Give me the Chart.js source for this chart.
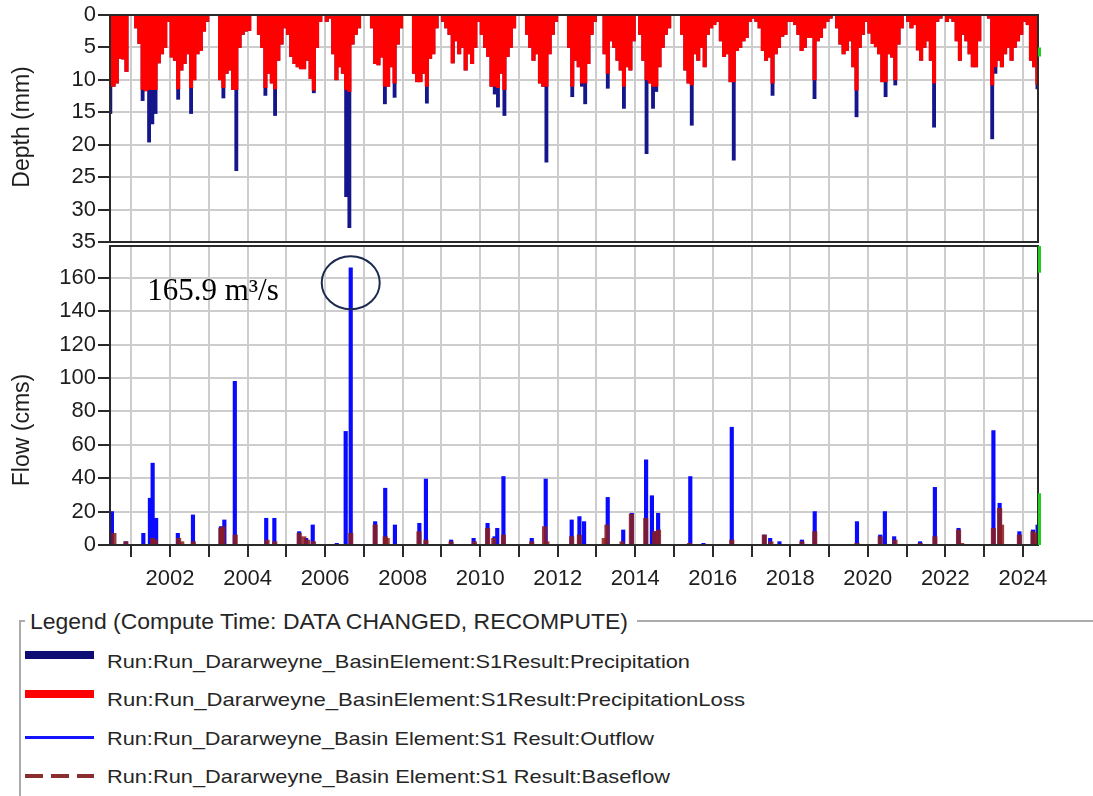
<!DOCTYPE html>
<html>
<head>
<meta charset="utf-8">
<script src="https://cdn.jsdelivr.net/npm/chart.js@4.4.1/dist/chart.umd.min.js"></script>
<style>
  html, body { margin:0; padding:0; background:#fff; width:1093px; height:796px; overflow:hidden;
    font-family:"Liberation Sans", Arial, sans-serif; }
  canvas { position:absolute; left:0; }
  #cDepth { top:0; z-index:2; }
  #cFlow { top:244px; z-index:1; }
  .box { position:absolute; }
  .lt { position:absolute; white-space:nowrap; line-height:1; transform-origin:0 50%; color:#262626; }
</style>
</head>
<body>
<canvas id="cDepth" width="1093" height="256"></canvas>
<canvas id="cFlow" width="1093" height="356"></canvas>

<div class="box" style="left:19px;top:620px;width:1074px;height:190px;border-left:2px solid #ababab;border-top:2px solid #ababab;"></div>
<div class="box" style="left:25px;top:608px;width:612px;height:28px;background:#fff;"></div>
<span class="lt" data-w="598" style="left:30px;top:610.5px;font-size:22px;">Legend (Compute Time: DATA CHANGED, RECOMPUTE)</span>

<div class="box" style="left:25px;top:651px;width:69px;height:8px;background:#0d0d73;"></div>
<div class="box" style="left:25px;top:690px;width:69px;height:8px;background:#ff0000;"></div>
<div class="box" style="left:25px;top:736px;width:69px;height:3px;background:#1414ff;"></div>
<div class="box" style="left:25px;top:774px;width:69px;height:4px;background:repeating-linear-gradient(90deg,#8c2d2d 0 18px,transparent 18px 26px);"></div>

<span class="lt" data-w="583" style="left:107px;top:651.5px;font-size:19px;">Run:Run_Dararweyne_BasinElement:S1Result:Precipitation</span>
<span class="lt" data-w="638" style="left:107px;top:690px;font-size:19px;">Run:Run_Dararweyne_BasinElement:S1Result:PrecipitationLoss</span>
<span class="lt" data-w="547" style="left:107px;top:728.5px;font-size:19px;">Run:Run_Dararweyne_Basin Element:S1 Result:Outflow</span>
<span class="lt" data-w="563" style="left:107px;top:767px;font-size:19px;">Run:Run_Dararweyne_Basin Element:S1 Result:Baseflow</span>

<script>
// ---------------- DATA ----------------
// Axis ticks / labels
const yearTicks  = [2001,2002,2003,2004,2005,2006,2007,2008,2009,2010,2011,2012,
                    2013,2014,2015,2016,2017,2018,2019,2020,2021,2022,2023,2024];
const yearLabels = ['','2002','','2004','','2006','','2008','','2010','','2012',
                    '','2014','','2016','','2018','','2020','','2022','','2024'];
const depthTicks = [0,5,10,15,20,25,30,35];
const flowTicks  = [0,20,40,60,80,100,120,140,160];

// Monthly depth series (mm) - Precipitation and PrecipitationLoss
const depthMonths = [
  '2000-06','2000-07','2000-08','2000-09','2000-10','2000-11',
  '2001-02','2001-03','2001-04','2001-05','2001-06','2001-07','2001-08','2001-09','2001-10','2001-11','2001-12',
  '2002-01','2002-02','2002-03','2002-04','2002-05','2002-06','2002-07','2002-08','2002-09','2002-10','2002-11','2002-12',
  '2003-04','2003-05','2003-06','2003-07','2003-08','2003-09','2003-10','2003-11','2003-12',
  '2004-01','2004-04','2004-05','2004-06','2004-07','2004-08','2004-09','2004-10','2004-11','2004-12',
  '2005-01','2005-02','2005-03','2005-04','2005-05','2005-06','2005-07','2005-08','2005-09','2005-10','2005-11',
  '2006-01','2006-02','2006-03','2006-04','2006-05','2006-06','2006-07','2006-08','2006-09','2006-10','2006-11',
  '2007-03','2007-04','2007-05','2007-06','2007-07','2007-08','2007-09','2007-10','2007-11','2007-12',
  '2008-04','2008-05','2008-06','2008-07','2008-08','2008-09','2008-10','2008-11',
  '2009-01','2009-02','2009-03','2009-04','2009-05','2009-06','2009-07','2009-08','2009-09','2009-10','2009-11','2009-12',
  '2010-01','2010-02','2010-03','2010-04','2010-05','2010-06','2010-07','2010-08','2010-09','2010-10','2010-11',
  '2011-03','2011-04','2011-05','2011-06','2011-07','2011-08','2011-09','2011-10','2011-11','2011-12',
  '2012-04','2012-05','2012-06','2012-07','2012-08','2012-09','2012-10','2012-11','2012-12',
  '2013-03','2013-04','2013-05','2013-06','2013-07','2013-08','2013-09','2013-10','2013-11','2013-12',
  '2014-02','2014-03','2014-04','2014-05','2014-06','2014-07','2014-08','2014-09','2014-10','2014-11',
  '2015-03','2015-04','2015-05','2015-06','2015-07','2015-08','2015-09','2015-10','2015-11','2015-12',
  '2016-01','2016-02','2016-03','2016-04','2016-05','2016-06','2016-07','2016-08','2016-09','2016-10','2016-11','2016-12',
  '2017-01','2017-02','2017-03','2017-04','2017-05','2017-06','2017-07','2017-08','2017-09','2017-10','2017-11','2017-12',
  '2018-01','2018-02','2018-03','2018-04','2018-05','2018-06','2018-07','2018-08','2018-09','2018-10','2018-11','2018-12',
  '2019-01','2019-03','2019-04','2019-05','2019-06','2019-07','2019-08','2019-09','2019-10','2019-11','2019-12',
  '2020-01','2020-02','2020-03','2020-04','2020-05','2020-06','2020-07','2020-08','2020-09','2020-10','2020-11',
  '2021-01','2021-02','2021-03','2021-04','2021-05','2021-06','2021-07','2021-08','2021-09','2021-10','2021-11',
  '2022-01','2022-02','2022-03','2022-04','2022-05','2022-06','2022-07','2022-08','2022-09','2022-10','2022-11',
  '2023-02','2023-03','2023-04','2023-05','2023-06','2023-07','2023-08','2023-09','2023-10','2023-11','2023-12',
  '2024-01','2024-02','2024-03','2024-04','2024-05'
];
const precipitationLoss = [
  11,11,10.5,6.7,6.8,8.7,
  2,4.4,11.5,11.7,11.5,11.5,11.5,7.4,6,5,1,
  6.5,7,11.4,8.5,7.5,6,11.2,10,6,5.5,2.5,1,
  10,11.2,9,8.5,11.5,11.5,5,3,2.5,
  2.4,3,5,11.2,9,10.5,11.4,7,4.5,2,
  3,6.4,7.5,8,8.3,8.3,7,9.8,11.6,5,1,
  1,0.5,6,10,8,9,11.5,11.8,4.5,3,2,
  2,7.5,7.7,6.5,11,11,8,10.5,4.5,2,
  9,10.3,10.3,9,11,6.7,6,2,
  1,2,3,7.4,4,6,5,8.5,6,7.5,5,1,
  3,5,6.4,11,11,11.2,9,11.5,6.4,5,2,
  3,5,7,6,10.5,11,11,6,3,1,
  5,11,7,8,10.5,10.5,7.5,3,1,
  6,9,4,5,7,8.5,11,8,8.5,4,
  3,7,10,10.5,11,11,8,5,3,2,
  3,8.5,10.5,10.8,6,7,5,8,3,2,
  1.5,1,4,6.4,6,10.3,10.3,5.5,5,4,3.5,1,
  0.5,1,2,5.5,7,6.5,10.5,6,5,3.3,3,1,
  1,1.5,3,5.5,5,3.5,3.5,10,4,3.5,2,1,
  0.5,2,4.5,6,5.5,4,8,11.6,5,3,1,
  2.8,4.4,4.9,6,10.3,10.3,6,6.5,10,4.5,2,
  1,2,1.5,5.4,7,5,4,7,10.5,1,0.5,
  1,0.5,1,4,7,3,4,6,8,8,4,
  0.5,10.8,8,7,8,6,5,7,5,4,3,
  1,1.5,7,8,10.7
];
const precipitation = [
  15.2,11,10.5,6.7,6.8,8.7,
  2,4.4,13.2,11.7,19.6,16.8,15.2,7.4,6,5,1,
  6.5,7,13,8.5,7.5,6,15.2,10,6,5.5,2.5,1,
  10,12.8,9,8.5,11.5,24,5,3,2.5,
  2.4,3,5,12.4,9,10.5,15.5,7,4.5,2,
  3,6.4,7.5,8,8.3,8.3,7,9.8,12,5,1,
  1,0.5,6,10,8,9,28,32.8,4.5,3,2,
  2,7.5,7.7,6.5,13.7,11,8,12.7,4.5,2,
  9,10.3,10.3,9,13.6,6.7,6,2,
  1,2,3,7.4,4,6,5,8.5,6,7.5,5,1,
  3,5,6.4,11,12.2,14.2,9,15.5,6.4,5,2,
  3,5,7,6,10.5,11,22.7,6,3,1,
  5,12.6,7,8,11,13.7,7.5,3,1,
  6,11.3,4,5,7,8.5,14.4,8,8.5,4,
  3,7,21.4,10.5,14.4,11.8,8,5,3,2,
  3,8.5,10.5,17,6,7,5,8,3,2,
  1.5,1,4,6.4,6,10.3,22.4,5.5,5,4,3.5,1,
  0.5,1,2,5.5,7,6.5,12.4,6,5,3.3,3,1,
  1,1.5,3,5.5,5,3.5,3.5,12.9,4,3.5,2,1,
  0.5,2,4.5,6,5.5,4,8,15.7,5,3,1,
  2.8,4.4,4.9,6,10.3,12.6,6,6.5,10.8,4.5,2,
  1,2,1.5,5.4,7,5,4,7,17.3,1,0.5,
  1,0.5,1,4,7,3,4,6,8,8,4,
  0.5,19.1,9,7,8,6,5,7,5,4,3,
  1,1.5,7,8,11.4
];

// Flow series (cms) - dates as decimal years
const outflowDates = [2000.50,2000.86,2001.31,2001.48,2001.55,2001.64,2002.20,2002.59,2003.31,2003.40,
  2003.67,2004.48,2004.69,2005.33,2005.51,2005.68,2006.30,2006.53,2006.66,2007.29,
  2007.55,2007.80,2008.43,2008.60,2009.25,2009.83,2010.19,2010.37,2010.44,2010.60,
  2011.33,2011.69,2012.36,2012.56,2012.68,2013.29,2013.69,2013.91,2014.28,2014.43,
  2014.49,2014.59,2015.42,2015.76,2016.49,2017.33,2017.48,2017.72,2018.30,2018.63,
  2019.72,2020.32,2020.44,2020.68,2021.35,2021.73,2022.34,2023.24,2023.40,2023.91,
  2024.26,2024.38];
const outflow = [20,2,7,28,49,16,7,18,11,15,
  98,16,16,8,4,12,1,68,165.9,14,
  34,12,13,39.5,3,4,13,5,10,41,
  4,39.5,15,17,14,28.5,9,19,51,29.5,
  8,19,41,1,70.5,6,4,2,3,20,
  14,6,20,5,2,34.5,10,68.5,25,8,
  9,12];
const baseflowDates = [2000.55,2000.86,2001.55,2001.62,2002.22,2002.30,2002.60,2003.31,2003.36,2003.68,
  2004.50,2004.70,2005.33,2005.45,2005.55,2005.70,2006.66,2007.29,2007.55,2007.60,
  2008.42,2008.60,2009.25,2009.85,2010.19,2010.35,2010.60,2011.33,2011.66,2011.72,
  2012.36,2012.56,2013.20,2013.27,2013.66,2013.90,2014.27,2014.50,2014.60,2015.40,
  2016.49,2017.33,2017.50,2018.30,2018.63,2019.72,2020.32,2020.70,2021.35,2021.73,
  2022.34,2022.42,2023.24,2023.40,2023.45,2023.91,2024.26,2024.35];
const baseflow = [7,2,4,3,4,2,2,10,11,6,
  3,2,7,5,3,2,7,12,5,4,
  8,3,2,2,10,4,6,2,11,2,
  5,6,4,12,2,18.5,16,8,9,1,
  3,6,2,2,8,1,5,3,1,5,
  9,1,10,22,12,6,8,7];

// Green end-of-record markers on the right edge [from, to]
const depthEdgeMark = [5, 6.4];
const flowEdgeMarks = [[0, 31], [163, 179]];

// Annotation
const peakLabel = '165.9 m³/s';
const peakDate = 2006.66;

// ---------------- CHARTS ----------------
const FONT = '"Liberation Sans", Arial, sans-serif';
const X_MIN = 2000.45, X_MAX = 2024.39;
const TXT = '#1e1e1e';
const GRID = '#cdcdcd';

function monthPos(s) { const p = s.split('-'); return +p[0] + (+p[1] - 0.5) / 12; }

function frame(id, marks) {
  return { id, afterDatasetsDraw(chart) {
    const { ctx, chartArea: a } = chart, ys = chart.scales.y;
    ctx.save(); ctx.strokeStyle = '#2a2a2a'; ctx.lineWidth = 2;
    ctx.strokeRect(a.left, a.top, a.right - a.left, a.bottom - a.top);
    ctx.strokeStyle = '#22cc22'; ctx.lineWidth = 3;
    marks.forEach(m => {
      ctx.beginPath();
      ctx.moveTo(a.right + 1.5, ys.getPixelForValue(m[0]));
      ctx.lineTo(a.right + 1.5, ys.getPixelForValue(m[1]));
      ctx.stroke();
    });
    ctx.restore();
  }};
}
function axisTitle(id, text, cx, cyFromTop) {
  return { id, afterDraw(chart) {
    const ctx = chart.ctx;
    ctx.save(); ctx.translate(cx, chart.chartArea.top + cyFromTop); ctx.rotate(-Math.PI / 2);
    ctx.font = '23px ' + FONT; ctx.fillStyle = TXT; ctx.textAlign = 'center'; ctx.textBaseline = 'middle';
    ctx.fillText(text, 0, 0); ctx.restore();
  }};
}

const xCommon = {
  type: 'linear', min: X_MIN, max: X_MAX, offset: false,
  afterBuildTicks: s => { s.ticks = yearTicks.map(v => ({ value: v })); }
};

// Top: depth chart
new Chart(document.getElementById('cDepth'), {
  type: 'bar',
  data: { datasets: [
    { label: 'PrecipitationLoss', data: depthMonths.map((m, i) => ({ x: monthPos(m), y: precipitationLoss[i] })),
      backgroundColor: '#ff0000', barThickness: 3.5, grouped: false, borderWidth: 0 },
    { label: 'Precipitation', data: depthMonths.map((m, i) => ({ x: monthPos(m), y: precipitation[i] })),
      backgroundColor: '#16168c', barThickness: 3.2, grouped: false, borderWidth: 0 }
  ]},
  options: {
    responsive: false, animation: false, events: [],
    layout: { padding: { left: 0, right: 55, top: 15, bottom: 14 } },
    plugins: { legend: { display: false }, tooltip: { enabled: false } },
    scales: {
      x: Object.assign({}, xCommon, {
        grid: { color: GRID, lineWidth: 2, drawTicks: false, offset: false },
        border: { display: false },
        ticks: { display: false },
        afterFit: s => { s.height = 0; s.paddingLeft = 0; s.paddingRight = 0; }
      }),
      y: {
        reverse: true, min: 0, max: 35,
        afterBuildTicks: s => { s.ticks = depthTicks.map(v => ({ value: v })); },
        grid: { color: GRID, lineWidth: 2, tickLength: 12, tickColor: '#2a2a2a', tickWidth: 2 },
        border: { color: '#2a2a2a', width: 2 },
        ticks: { font: { family: FONT, size: 22 }, color: TXT, padding: 2 },
        afterFit: s => { s.width = 110; s.paddingTop = 0; s.paddingBottom = 0; }
      }
    }
  },
  plugins: [frame('frameTop', [depthEdgeMark]), axisTitle('titleTop', 'Depth (mm)', 23, 112)]
});

// Bottom: flow chart
const peakMark = { id: 'peakMark', afterDatasetsDraw(chart) {
  const { ctx } = chart, xs = chart.scales.x, ys = chart.scales.y;
  ctx.save();
  ctx.font = '31px "Liberation Serif", "Times New Roman", serif';
  ctx.fillStyle = '#000'; ctx.textBaseline = 'alphabetic'; ctx.textAlign = 'left';
  ctx.fillText(peakLabel, xs.getPixelForValue(2001.41), ys.getPixelForValue(146.7));
  ctx.beginPath();
  ctx.ellipse(xs.getPixelForValue(peakDate), ys.getPixelForValue(157), 29, 26.5, 0, 0, Math.PI * 2);
  ctx.strokeStyle = '#1b2a4e'; ctx.lineWidth = 2; ctx.stroke();
  ctx.restore();
}};

new Chart(document.getElementById('cFlow'), {
  type: 'bar',
  data: { datasets: [
    { label: 'Baseflow', data: baseflowDates.map((d, i) => ({ x: d, y: baseflow[i] })),
      backgroundColor: 'rgba(140,28,28,0.85)', barThickness: 4.5, grouped: false, borderWidth: 0 },
    { label: 'Outflow', data: outflowDates.map((d, i) => ({ x: d, y: outflow[i] })),
      backgroundColor: '#0a0aff', barThickness: 3.5, grouped: false, borderWidth: 0 }
  ]},
  options: {
    responsive: false, animation: false, events: [],
    layout: { padding: { left: 0, right: 55, top: 2, bottom: 0 } },
    plugins: { legend: { display: false }, tooltip: { enabled: false } },
    scales: {
      x: Object.assign({}, xCommon, {
        grid: { color: GRID, lineWidth: 2, tickLength: 12, tickColor: '#2a2a2a', tickWidth: 2, offset: false },
        border: { color: '#2a2a2a', width: 2 },
        ticks: { autoSkip: false, maxRotation: 0, minRotation: 0, font: { family: FONT, size: 22 }, color: TXT, padding: 9,
          callback: v => { const i = yearTicks.indexOf(v); return i >= 0 ? yearLabels[i] : ''; } },
        afterFit: s => { s.height = 55; s.paddingLeft = 0; s.paddingRight = 0; }
      }),
      y: {
        min: 0, max: 179,
        afterBuildTicks: s => { s.ticks = flowTicks.map(v => ({ value: v })); },
        grid: { color: GRID, lineWidth: 2, tickLength: 12, tickColor: '#2a2a2a', tickWidth: 2 },
        border: { color: '#2a2a2a', width: 2 },
        ticks: { font: { family: FONT, size: 22 }, color: TXT, padding: 2 },
        afterFit: s => { s.width = 110; s.paddingTop = 0; s.paddingBottom = 0; }
      }
    }
  },
  plugins: [frame('frameBottom', flowEdgeMarks), peakMark, axisTitle('titleBottom', 'Flow (cms)', 23, 184)]
});

// Fit legend texts to their measured widths
document.querySelectorAll('.lt').forEach(el => {
  const w = el.getBoundingClientRect().width;
  el.style.transform = 'scaleX(' + (el.dataset.w / w) + ')';
});
</script>
</body>
</html>
